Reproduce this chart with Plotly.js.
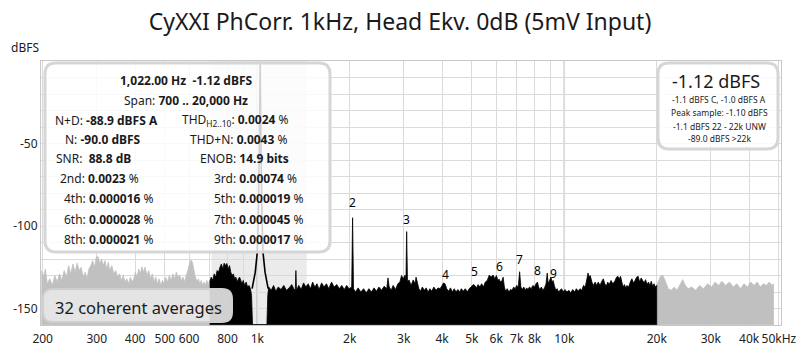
<!DOCTYPE html>
<html><head><meta charset="utf-8">
<script src="https://cdn.plot.ly/plotly-3.0.1.min.js"></script>
<style>html,body{margin:0;padding:0;background:#fff;}#chart{width:800px;height:351px;}</style>
</head><body><div id="chart"></div>
<script>
// ---------------- DATA ----------------
const chartTitle = "CyXXI PhCorr. 1kHz, Head Ekv. 0dB (5mV Input)";
// [Hz, dBFS] — gray spectrum below the analysis span
const lowSpectrum = [[198,-127],[201,-131],[204,-126],[207,-135],[211,-132],[215,-136],[219,-130],[223,-134],[227,-129],[231,-133],[235,-127],[239,-131],[243,-124],[247,-129],[251,-123],[255,-128],[259,-122.5],[263,-127],[267,-125],[271,-131],[275,-128],[279,-132],[283,-126],[287,-124],[291,-121],[295,-125],[299,-119],[303,-118.6],[307,-123],[311,-120],[315,-124],[319,-121],[323,-126],[327,-122],[331,-127],[336,-124],[341,-129],[346,-127],[351,-131],[356,-129],[361,-133],[366,-130],[371,-134],[376,-132],[381,-135],[386,-131],[391,-134],[396,-132],[401,-128],[406,-131],[411,-126],[416,-129],[421,-124.7],[426,-128],[431,-125],[437,-130],[443,-127],[449,-132],[455,-129],[461,-134],[467,-131],[473,-135],[479,-132],[485,-136],[491,-133],[497,-135],[503,-131],[510,-134],[517,-130],[524,-133],[531,-129],[538,-132],[545,-128],[552,-131],[559,-130],[566,-133],[573,-131],[580,-134],[587,-130],[594,-127],[601,-123],[608,-120.6],[615,-122],[622,-127],[629,-131],[636,-134],[643,-132],[650,-135],[657,-133],[664,-136],[671,-134],[678,-136],[685,-133],[692,-135],[700,-134]];
// [Hz, dBFS] — black spectrum in the analysis span 700 Hz .. 20 kHz (fundamental notched out)
const midSpectrum = [[700,-134],[708,-131],[716,-133],[724,-129],[732,-131],[740,-127],[748,-128],[756,-125],[764,-123],[772,-126],[780,-122.5],[788,-124],[796,-122.7],[804,-126],[812,-124],[820,-128],[828,-130],[836,-129],[844,-132],[852,-131],[860,-134],[868,-132],[876,-131],[884,-133],[892,-135],[900,-133],[910,-136],[920,-134],[930,-137],[940,-136],[950,-138],[958,-142],[965,-159.8],[1075,-159.8],[1082,-142],[1090,-137],[1110,-139],[1130,-136],[1150,-139.5],[1170,-137],[1195,-138.5],[1220,-136],[1245,-139],[1270,-137.5],[1295,-135.5],[1315,-138],[1330,-139],[1336,-127],[1342,-139],[1365,-136],[1390,-138.5],[1415,-134.5],[1440,-137],[1465,-135],[1490,-138],[1515,-134],[1540,-137],[1565,-135],[1590,-138.5],[1620,-134.5],[1650,-137],[1680,-135],[1710,-138],[1745,-134],[1780,-137],[1815,-135.5],[1850,-138],[1885,-136],[1920,-138.5],[1955,-136],[1990,-138],[2030,-137],[2044,-95],[2058,-138],[2090,-140],[2130,-137.5],[2175,-140],[2220,-138],[2265,-140.5],[2310,-138],[2355,-140],[2400,-137.5],[2445,-139.5],[2490,-137],[2540,-139],[2590,-136.5],[2640,-138],[2665,-131.5],[2690,-137],[2730,-139],[2770,-136],[2820,-138.5],[2870,-135],[2915,-134],[2950,-130],[2990,-132],[3030,-129.7],[3050,-133],[3066,-103.4],[3085,-134],[3120,-132.7],[3170,-136],[3220,-132.7],[3265,-135],[3290,-131],[3320,-134],[3360,-138],[3400,-139.5],[3450,-137],[3500,-139],[3550,-137.5],[3600,-140],[3650,-138],[3700,-139.5],[3760,-137],[3820,-139],[3880,-137.5],[3940,-138],[4000,-136],[4040,-134.5],[4088,-135],[4140,-138],[4200,-139.5],[4260,-137.5],[4320,-140],[4380,-138],[4440,-140],[4500,-138.5],[4560,-140],[4620,-138],[4690,-139.5],[4760,-138],[4830,-140],[4900,-138],[4970,-137],[5050,-135.5],[5110,-136],[5170,-137.5],[5240,-135.5],[5310,-137],[5380,-135],[5450,-137],[5530,-134],[5610,-133],[5700,-129.7],[5780,-131],[5860,-129.7],[5940,-132],[6010,-130],[6080,-133],[6132,-132.2],[6200,-134],[6270,-133],[6320,-131],[6380,-137],[6440,-139.5],[6520,-138],[6600,-140],[6680,-138.5],[6760,-139],[6840,-137],[6920,-138],[7000,-136],[7080,-137],[7154,-127.7],[7220,-137],[7300,-138.5],[7380,-137],[7460,-139],[7540,-137.5],[7620,-138.5],[7700,-137],[7800,-138],[7900,-136],[8000,-137],[8090,-135],[8176,-134],[8250,-137],[8320,-138.5],[8420,-137],[8520,-139],[8620,-137.5],[8720,-135],[8800,-128.5],[8860,-135],[8950,-133],[9050,-131],[9120,-134],[9198,-133],[9280,-136],[9380,-139],[9480,-138],[9580,-140],[9680,-139],[9800,-138],[9920,-140],[10050,-138.5],[10200,-140],[10350,-139],[10500,-140.5],[10650,-138.5],[10800,-140],[10950,-138],[11100,-139.5],[11250,-138],[11400,-139],[11550,-136],[11700,-137],[11850,-132],[11950,-128.5],[12050,-131],[12150,-130],[12300,-134],[12450,-136],[12600,-134],[12750,-136],[12900,-134],[13070,-136],[13250,-133.5],[13400,-132],[13550,-135],[13700,-136.5],[13850,-134],[14000,-135.5],[14200,-133],[14400,-135],[14600,-133.5],[14800,-131],[14950,-130.5],[15100,-132],[15250,-130.5],[15400,-134],[15550,-137],[15700,-135.5],[15850,-137.5],[16000,-136],[16200,-137],[16400,-134],[16600,-132],[16800,-134.5],[17000,-133],[17200,-131],[17400,-130.5],[17600,-134],[17800,-131.5],[18000,-133],[18200,-134.5],[18400,-132.5],[18600,-135.5],[18800,-134],[19000,-136],[19200,-133.5],[19400,-136.5],[19600,-135],[19800,-137],[20000,-136]];
// [Hz, dBFS] — gray spectrum above the analysis span
const highSpectrum = [[20000,-136],[20500,-131],[20900,-129.7],[21300,-133],[21800,-138],[22300,-139],[22800,-137],[23300,-139],[23900,-135],[24300,-132.5],[24800,-136],[25300,-138],[26000,-137],[26800,-139],[27600,-136],[28400,-138],[29300,-135],[30200,-137],[31000,-134],[31800,-136],[32600,-133.5],[33500,-136],[34500,-134],[35500,-137],[36500,-135],[37500,-138],[38500,-135],[39500,-137],[40500,-134],[41500,-136],[42500,-134],[43500,-137],[44500,-135],[45500,-136],[46500,-134],[47500,-136],[48000,-135]];
// fundamental (drawn as outline)
const fundFreq = [962,985,1000,1008,1016,1022,1028,1036,1044,1060,1085];
const fundLevel = [-138,-128,-116,-95,-50,-1.12,-50,-95,-116,-128,-138];
// harmonic markers
const harmNames = ["2","3","4","5","6","7","8","9"];
const harmFreq  = [2044,3066,4088,5110,6132,7154,8176,9198];
const harmLevel = [-93.9,-103.7,-137.0,-135.5,-132.2,-128.0,-134.7,-136.5];
// axis ticks
const xTickVals = [200,300,400,500,600,700,800,900,1000,2000,3000,4000,5000,6000,7000,8000,9000,10000,20000,30000,40000,50000];
const xTickText = ["200","300","400","500","600"," ","800"," ","1k","2k","3k","4k","5k","6k","7k","8k"," ","10k","20k","30k","40k","50kHz"];
const yTickVals = [-160,-150,-140,-130,-120,-110,-100,-90,-80,-70,-60,-50,-40,-30,-20,-10,0];
const yTickText = [" ","-150"," "," "," "," ","-100"," "," "," "," ","-50"," "," "," "," "," "];
const decadeLines = [1000,10000];
const spanBand = [710,1450];
// text panels
const infoTitle = "<b>1,022.00 Hz  -1.12 dBFS</b>";
const infoSpan = "Span: <b>700 .. 20,000 Hz</b>";
const infoLeft = ["N+D: <b>-88.9 dBFS A</b>","N: <b>-90.0 dBFS</b>","SNR:  <b>88.8 dB</b>","2nd: <b>0.0023</b> %","4th: <b>0.000016</b> %","6th: <b>0.000028</b> %","8th: <b>0.000021</b> %"];
const infoRight = ["THD<sub>H2..10</sub>: <b>0.0024</b> %","THD+N: <b>0.0043</b> %","ENOB: <b>14.9 bits</b>","3rd: <b>0.00074</b> %","5th: <b>0.000019</b> %","7th: <b>0.000045</b> %","9th: <b>0.000017</b> %"];
const levelBig = "-1.12 dBFS";
const levelLines = ["-1.1 dBFS C, -1.0 dBFS A","Peak sample: -1.10 dBFS","-1.1 dBFS 22 - 22k UNW","-89.0 dBFS >22k"];
const avgText = "32 coherent averages";

// ---------------- LAYOUT HELPERS ----------------
const PL=41, PR=781, PT=61, PB=325, FLOOR=-159.9;
const FONT = "Noto Sans, Open Sans, sans-serif";
function px(x){return (x-PL)/(PR-PL);}
function py(y){return (PB-y)/(PB-PT);}
function roundRect(x0,y0,x1,y1,r){
  const X=v=>px(v).toFixed(5), Y=v=>py(v).toFixed(5);
  return `M${X(x0+r)},${Y(y0)} L${X(x1-r)},${Y(y0)} Q${X(x1)},${Y(y0)} ${X(x1)},${Y(y0+r)} L${X(x1)},${Y(y1-r)} Q${X(x1)},${Y(y1)} ${X(x1-r)},${Y(y1)} L${X(x0+r)},${Y(y1)} Q${X(x0)},${Y(y1)} ${X(x0)},${Y(y1-r)} L${X(x0)},${Y(y0+r)} Q${X(x0)},${Y(y0)} ${X(x0+r)},${Y(y0)} Z`;
}
function area(pairs,color){
  const f=pairs.map(p=>p[0]), l=pairs.map(p=>p[1]);
  return {x:f.concat([f[f.length-1],f[0]]), y:l.concat([FLOOR,FLOOR]), type:'scatter', mode:'lines',
    fill:'toself', fillcolor:color, line:{color:color,width:0.8,simplify:false}, hoverinfo:'skip', showlegend:false};
}

const traces = [
  area(lowSpectrum,'#c0c0c0'),
  area(highSpectrum,'#c0c0c0'),
  area(midSpectrum,'#000000'),
  {x:fundFreq,y:fundLevel,type:'scatter',mode:'lines',line:{color:'#000',width:1.6,simplify:false},hoverinfo:'skip',showlegend:false}
];

const shapes = [
  {type:'rect',xref:'x',yref:'paper',x0:spanBand[0],x1:spanBand[1],y0:0,y1:1,fillcolor:'#ebebeb',line:{width:0},layer:'below'}
];
decadeLines.forEach(f=>shapes.push({type:'line',xref:'x',yref:'paper',x0:f,x1:f,y0:0,y1:1,line:{color:'#7a7a7a',width:1},layer:'between'}));
shapes.push({type:'path',xref:'paper',yref:'paper',path:roundRect(45,63,330,252,11),fillcolor:'rgba(255,255,255,0.82)',line:{color:'#d6d6d6',width:3},layer:'above'});
shapes.push({type:'path',xref:'paper',yref:'paper',path:roundRect(658,63,778,149,11),fillcolor:'rgba(255,255,255,0.85)',line:{color:'#d6d6d6',width:3},layer:'above'});
shapes.push({type:'path',xref:'paper',yref:'paper',path:roundRect(43,289,232,322,10),fillcolor:'rgba(232,232,232,0.9)',line:{color:'#cfcfcf',width:2},layer:'above'});

const ann = [];
function txt(text,x,y,size,anchor){
  ann.push({text:text,xref:'paper',yref:'paper',x:px(x),y:py(y),xanchor:anchor||'left',yanchor:'middle',
    showarrow:false,font:{family:FONT,size:size,color:'#1a1a1a'}});
}
txt('dBFS',25,48,12,'center');
txt(infoTitle,186,80,12,'center');
txt(infoSpan,186,100.5,12,'center');
const rowY=[120,139.5,158.5,178,198.5,219,239.5];
const leftX=[53,63,54,58,62,62,62];
const rightX=[180,188,198,212,212,212,212];
infoLeft.forEach((t,i)=>txt(t,leftX[i],rowY[i],12,'left'));
infoRight.forEach((t,i)=>txt(t,rightX[i],rowY[i],12,'left'));
txt(levelBig,716,81,18,'center');
const lvlY=[99,112.5,126,138.5];
levelLines.forEach((t,i)=>txt(t,719,lvlY[i],8.5,'center'));
txt(avgText,53,307,16.5,'left');
harmNames.forEach((n,i)=>ann.push({text:n,x:Math.log10(harmFreq[i]),y:harmLevel[i],xref:'x',yref:'y',showarrow:false,
  yshift:13,xanchor:'center',yanchor:'middle',font:{family:FONT,size:12,color:'#000'}}));

const layout = {
  width:800,height:351,margin:{l:PL,r:800-PR,t:PT,b:351-PB},
  paper_bgcolor:'#fff',plot_bgcolor:'#fff',
  title:{text:chartTitle,x:0.5,xref:'container',xanchor:'center',y:1-22/351,yref:'container',yanchor:'middle',
    font:{family:FONT,size:23,color:'#1a1a1a'}},
  xaxis:{type:'log',range:[Math.log10(197.5),Math.log10(50800)],tickvals:xTickVals,ticktext:xTickText,tickangle:0,
    gridcolor:'#dadada',gridwidth:1,showline:true,mirror:true,linecolor:'#c8c8c8',linewidth:1,ticks:'',
    tickfont:{family:FONT,size:12,color:'#222'},zeroline:false,ticklabelstandoff:3},
  yaxis:{range:[-160,0],tickvals:yTickVals,ticktext:yTickText,gridcolor:'#dadada',gridwidth:1,
    showline:true,mirror:true,linecolor:'#c8c8c8',linewidth:1,ticks:'',tickfont:{family:FONT,size:12,color:'#222'},zeroline:false},
  shapes:shapes,annotations:ann,showlegend:false
};
Plotly.newPlot('chart',traces,layout,{staticPlot:true,displayModeBar:false});
</script></body></html>
